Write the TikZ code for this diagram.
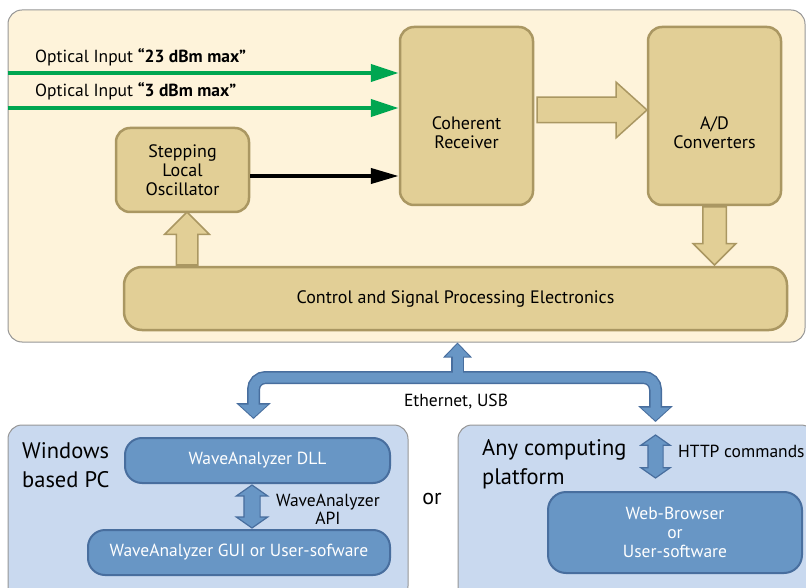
\documentclass[tikz,border=0pt]{standalone}
\usepackage{fontspec}
\setmainfont{PT Sans}
\usetikzlibrary{arrows.meta, positioning, shapes.arrows}

\definecolor{panelbg}{RGB}{254,243,218}
\definecolor{panelline}{RGB}{150,150,150}
\definecolor{tanfill}{RGB}{226,207,150}
\definecolor{tanline}{RGB}{170,151,98}
\definecolor{pcbg}{RGB}{201,217,239}
\definecolor{bluefill}{RGB}{104,150,197}
\definecolor{blueline}{RGB}{72,110,158}
\definecolor{optgreen}{RGB}{0,166,81}

\begin{document}
\begin{tikzpicture}[
    x=1pt, y=-1pt,
    panel/.style={
        draw=panelline,
        line width=1pt,
        rounded corners=14pt,
        inner sep=0pt
    },
    tanbox/.style={
        draw=tanline,
        fill=tanfill,
        line width=2.5pt,
        rounded corners=14pt,
        inner sep=0pt,
        align=center,
        font=\fontsize{18}{19}\selectfont
    },
    bluebox/.style={
        draw=blueline,
        fill=bluefill,
        line width=2pt,
        rounded corners=17pt,
        inner sep=0pt,
        align=center,
        text=white,
        font=\fontsize{17.5}{19}\selectfont
    },
    fatarrow/.style={single arrow, draw=tanline, fill=tanfill, line width=1.5pt, inner xsep=0pt},
    apiarrow/.style={double arrow, draw=blueline, fill=bluefill, line width=1.2pt,
        inner xsep=0pt, rotate=90, double arrow tip angle=110},
    optic/.style={line width=4pt, optgreen, -{Triangle[length=28pt, width=17pt]}},
    loline/.style={line width=4pt, -{Triangle[length=28pt, width=15pt]}},
    busedge/.style={line width=13pt, blueline, rounded corners=12pt},
    busfill/.style={line width=10pt, bluefill, rounded corners=12pt},
    caption/.style={font=\fontsize{17.5}{18}\selectfont, inner sep=0pt},
    bigcaption/.style={font=\fontsize{22.5}{29}\selectfont, align=left, inner sep=0pt}
]
\useasboundingbox (0,0) rectangle (806,588);

% Instrument
\node[panel, fill=panelbg, minimum width=797pt, minimum height=332pt] (top) at (406.5,176) {};
\node[tanbox, minimum width=133pt, minimum height=178pt] (coh) at (466.5,116) {};
\node[tanbox, minimum width=133pt, minimum height=178pt] (ad) at (714.5,116) {};
\node[tanbox, minimum width=133pt, minimum height=84pt] (lo) at (182.5,170) {Stepping\\Local\\Oscillator};
\node[tanbox, minimum width=663pt, minimum height=63pt, rounded corners=18pt] (ctrl) at (455.5,298.5)
    {Control and Signal Processing Electronics};
\node[tanbox, draw=none, fill=none] (cohtext) at ([yshift=-17pt]coh.center) {Coherent\\Receiver};
\node[tanbox, draw=none, fill=none] (adtext) at ([yshift=-17pt]ad.center) {A/D\\Converters};

% Optical inputs
\node[caption, anchor=west] (in23) at (35,57) {Optical Input \textbf{“23 dBm max”}};
\node[caption, anchor=west] (in3) at (35,91) {Optical Input \textbf{“3 dBm max”}};
\draw[optic] ([yshift=43pt]coh.west -| top.west) -- ([yshift=43pt]coh.west);
\draw[optic] ([yshift=8pt]coh.west -| top.west) -- ([yshift=8pt]coh.west);
\draw[loline] ([yshift=-6pt]lo.east) -- ([yshift=-6pt]lo.east -| coh.west);

% Fat arrows
\node[fatarrow, anchor=tail, minimum height=110pt, inner ysep=12pt, single arrow tip angle=84,
    single arrow head extend=15pt] (recarrow) at ([xshift=2pt, yshift=6pt]coh.east) {};
\node[fatarrow, anchor=tail, rotate=-90, minimum height=58pt, inner ysep=11pt,
    single arrow head extend=9.5pt] (adarrow) at (ad.south) {};
\node[fatarrow, anchor=tail, rotate=90, minimum height=53pt, inner ysep=10pt,
    single arrow head extend=11.5pt] (ctrlarrow) at ([xshift=4.5pt]lo.south |- ctrl.north) {};

% Host side
\node[panel, fill=pcbg, minimum width=400pt, minimum height=175pt] (winpc) at (208,512.5) {};
\node[panel, fill=pcbg, minimum width=357pt, minimum height=175pt] (anypc) at (636.5,512.5) {};
\node[bluebox, minimum width=265pt, minimum height=45pt] (dll) at (257.5,460.5) {WaveAnalyzer DLL};
\node[bluebox, minimum width=302pt, minimum height=45pt] (gui) at (239,552.5) {WaveAnalyzer GUI or User-sofware};
\node[bluebox, minimum width=254pt, minimum height=81pt, rounded corners=18pt] (web) at (675,532.5)
    {Web-Browser\\or\\User-software};
\node[bigcaption, anchor=north west] (wintext) at (22,442) {Windows\\based PC};
\node[bigcaption, anchor=north west] (anytext) at (482,439) {Any computing\\platform};
\node[font=\fontsize{22}{24}\selectfont, inner sep=0pt] (ortext) at (432,499) {or};

\node[apiarrow, minimum height=43pt, inner ysep=7.5pt, double arrow head extend=7.5pt]
    (apiarrow) at (252,506.5) {};
\node[caption, align=center] (apitext) at (328,509) {WaveAnalyzer\\API};
\node[apiarrow, minimum height=43pt, inner ysep=7pt, double arrow head extend=7pt]
    (httparrow) at (655.5,456.5) {};
\node[caption, anchor=west] (httptext) at (678,451) {HTTP commands};

% Ethernet / USB bus
\coordinate (busM) at (457.5,377.5);
\coordinate (tipL) at (253.5,419);
\coordinate (tipR) at (655.5,422);
\draw[busedge, -{Triangle[length=15pt, width=28pt]}] (busM) -- (top.south -| busM);
\draw[busedge, {Triangle[length=16pt, width=34pt]}-{Triangle[length=16pt, width=34pt]}]
    (tipL) |- (busM) -| (tipR);
\draw[busfill, -{Triangle[length=12.5pt, width=23pt]}, shorten >=1.5pt] (busM) -- (top.south -| busM);
\draw[busfill, {Triangle[length=13pt, width=28pt]}-{Triangle[length=13pt, width=28pt]},
    shorten <=1.5pt, shorten >=1.5pt] (tipL) |- (busM) -| (tipR);
\node[caption] (bustext) at (456,402) {Ethernet, USB};

\end{tikzpicture}
\end{document}
